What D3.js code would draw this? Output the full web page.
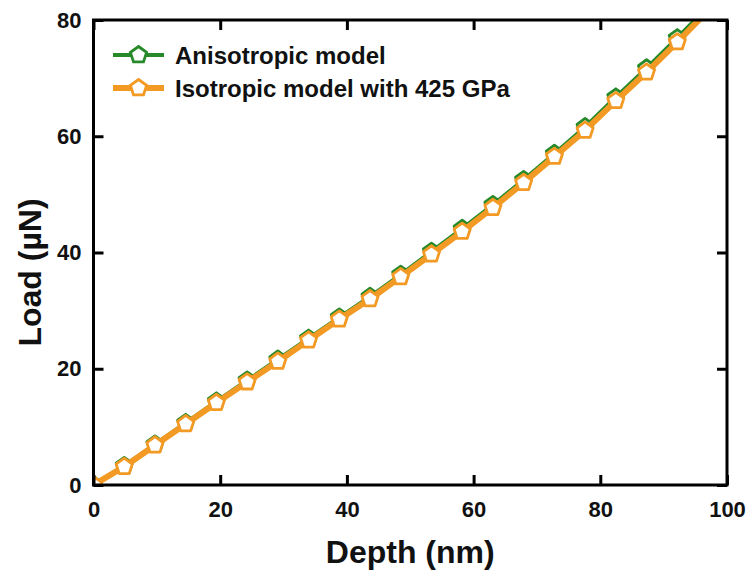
<!DOCTYPE html>
<html>
<head>
<meta charset="utf-8">
<script src="https://cdn.jsdelivr.net/npm/d3@7"></script>
<style>
  body { margin: 0; background: #fff; }
  text { font-family: "Liberation Sans", Arial, sans-serif; font-weight: bold; fill: #111; }
</style>
</head>
<body>
<div id="chart"></div>
<script>
// depth (nm) of each computed point, shared by both models
var depth = [0, 4.85, 9.7, 14.55, 19.4, 24.25, 29.1, 33.95, 38.8, 43.65, 48.5, 53.35, 58.2, 63.05, 67.9, 72.75, 77.6, 82.45, 87.3, 92.15, 97.0];
// load (uN)
var loadAniso = [0, 3.3, 7.0, 10.7, 14.4, 18.0, 21.6, 25.2, 28.85, 32.4, 36.2, 40.15, 44.1, 48.2, 52.5, 57.0, 61.6, 66.7, 71.7, 76.9, 82.3];
var loadIso = [0, 3.15, 6.85, 10.5, 14.15, 17.7, 21.25, 24.9, 28.5, 32.0, 35.8, 39.7, 43.6, 47.7, 52.0, 56.5, 61.0, 66.1, 71.0, 76.2, 81.6];

var xTicks = [0, 20, 40, 60, 80, 100];
var yTicks = [0, 20, 40, 60, 80];

var series = [
  {name: "Anisotropic model", values: loadAniso, color: "#278a2a", lw: 4},
  {name: "Isotropic model with 425 GPa", values: loadIso, color: "#f39a24", lw: 6}
];

// *********************************************
// SETUP
// *********************************************
var width = 752, height = 577;
var margin = {left: 93.5, right: 25, top: 20, bottom: 92};

var svg = d3.select("#chart").append("svg")
    .attr("width", width)
    .attr("height", height);

var x = d3.scaleLinear().domain([0, 100]).range([margin.left, width - margin.right]);
var y = d3.scaleLinear().domain([0, 80]).range([height - margin.bottom, margin.top]);

svg.append("clipPath").attr("id", "clip")
  .append("rect")
    .attr("x", x(0)).attr("y", y(80))
    .attr("width", x(100) - x(0)).attr("height", y(0) - y(80));

// pentagon marker
var pent = d3.symbol().type(d3.symbolStar).size(0); // placeholder, replaced below
function pentagon(r) {
  var pts = d3.range(5).map(function(i) {
    var a = -Math.PI / 2 + i * 2 * Math.PI / 5;
    return [r * Math.cos(a), r * Math.sin(a)];
  });
  return "M" + pts.join("L") + "Z";
}

var plot = svg.append("g").attr("clip-path", "url(#clip)");

var line = d3.line()
  .x(function(d, i) { return x(depth[i]); })
  .y(function(d) { return y(d); });

series.forEach(function(s) {
  var g = plot.append("g");
  g.append("path")
    .datum(s.values)
    .attr("d", line)
    .style("fill", "none")
    .style("stroke", s.color)
    .style("stroke-width", s.lw)
    .style("stroke-linejoin", "round");

  g.selectAll("path.mk")
    .data(s.values)
    .enter().append("path")
    .attr("class", "mk")
    .attr("d", pentagon(8.5))
    .attr("transform", function(d, i) { return "translate(" + x(depth[i]) + "," + y(d) + ")"; })
    .style("fill", "white")
    .style("stroke", s.color)
    .style("stroke-width", 2.8)
    .style("stroke-linejoin", "round");
});

// *********************************************
// AXES (ticks inside, mirrored on all sides)
// *********************************************
var frame = svg.append("g");
frame.append("rect")
  .attr("x", x(0)).attr("y", y(80))
  .attr("width", x(100) - x(0)).attr("height", y(0) - y(80))
  .style("fill", "none").style("stroke", "#000").style("stroke-width", 3);

var xb = svg.append("g").attr("transform", "translate(0," + y(0) + ")")
  .call(d3.axisBottom(x).tickValues(xTicks).tickSizeInner(-10).tickSizeOuter(0).tickPadding(16));
var xt = svg.append("g").attr("transform", "translate(0," + y(80) + ")")
  .call(d3.axisTop(x).tickValues(xTicks).tickSizeInner(-10).tickSizeOuter(0).tickFormat(""));
var yl = svg.append("g").attr("transform", "translate(" + x(0) + ",0)")
  .call(d3.axisLeft(y).tickValues(yTicks).tickSizeInner(-10).tickSizeOuter(0).tickPadding(12));
var yr = svg.append("g").attr("transform", "translate(" + x(100) + ",0)")
  .call(d3.axisRight(y).tickValues(yTicks).tickSizeInner(-10).tickSizeOuter(0).tickFormat(""));

[xb, xt, yl, yr].forEach(function(a) {
  a.select(".domain").remove();
  a.selectAll(".tick line").style("stroke", "#000").style("stroke-width", 3);
  a.selectAll(".tick text")
    .style("font-family", "'Liberation Sans', Arial, sans-serif")
    .style("font-weight", "bold")
    .style("font-size", "22px")
    .style("fill", "#111");
});

// axis titles
svg.append("text")
  .attr("x", (x(0) + x(100)) / 2)
  .attr("y", 563)
  .attr("text-anchor", "middle")
  .style("font-size", "32px")
  .text("Depth (nm)");

svg.append("text")
  .attr("transform", "translate(41," + (y(40) + 20) + ") rotate(-90)")
  .attr("text-anchor", "middle")
  .style("font-size", "32px")
  .text("Load (\u00b5N)");

// *********************************************
// LEGEND
// *********************************************
var legend = svg.append("g").attr("transform", "translate(113,55)");
series.forEach(function(s, i) {
  var row = legend.append("g").attr("transform", "translate(0," + (i * 33) + ")");
  row.append("line")
    .attr("x1", 0).attr("x2", 51).attr("y1", 0).attr("y2", 0)
    .style("stroke", s.color).style("stroke-width", s.lw);
  row.append("path")
    .attr("d", pentagon(8.5))
    .attr("transform", "translate(25.5,0)")
    .style("fill", "white").style("stroke", s.color).style("stroke-width", 2.8);
  row.append("text")
    .attr("x", 62).attr("y", 8.5)
    .style("font-size", "24px")
    .text(s.name);
});
</script>
</body>
</html>
